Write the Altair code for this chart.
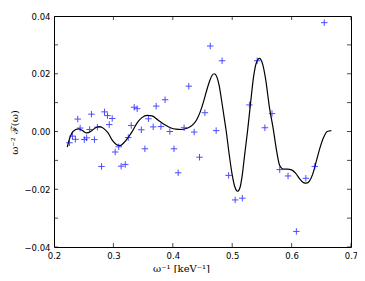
import altair as alt
import pandas as pd

# scattered data points (blue +)
pts_x = [0.226, 0.231, 0.236, 0.240, 0.244, 0.251, 0.255, 0.260, 0.263, 0.268,
         0.273, 0.280, 0.285, 0.290, 0.293, 0.298, 0.303, 0.309, 0.313, 0.320,
         0.325, 0.330, 0.335, 0.340, 0.347, 0.353, 0.359, 0.367, 0.372, 0.380,
         0.387, 0.395, 0.402, 0.409, 0.419, 0.427, 0.436, 0.445, 0.454, 0.463,
         0.473, 0.483, 0.494, 0.505, 0.517, 0.529, 0.542, 0.555, 0.567, 0.580,
         0.594, 0.608, 0.624, 0.639, 0.655]
pts_y = [-0.0039, -0.0016, -0.0027, 0.0043, 0.0012, -0.0028, -0.0022, 0.0007, 0.0060, -0.0028,
         0.0015, -0.0121, 0.0068, 0.0055, 0.0024, 0.0045, -0.0071, -0.0053, -0.0120, -0.0114,
         -0.0021, 0.0021, 0.0084, 0.0079, 0.0006, -0.0060, 0.0044, 0.0016, 0.0088, 0.0017,
         0.0110, 0.0000, -0.0060, -0.0143, 0.0013, 0.0157, -0.0002, -0.0089, 0.0065, 0.0296,
         0.0003, 0.0245, -0.0152, -0.0237, -0.0231, 0.0092, 0.0245, 0.0013, 0.0062, -0.0132,
         -0.0154, -0.0346, -0.0162, -0.0121, 0.0377]

# smooth fitted curve (black line)
curve_x = [0.2224, 0.227, 0.232, 0.241, 0.248, 0.255, 0.263, 0.270, 0.277, 0.284,
           0.291, 0.298, 0.305, 0.311, 0.318, 0.325, 0.331, 0.340, 0.348, 0.357,
           0.365, 0.375, 0.385, 0.395, 0.405, 0.415, 0.425, 0.433, 0.440, 0.446,
           0.452, 0.457, 0.462, 0.466, 0.470, 0.474, 0.478, 0.482, 0.486, 0.490,
           0.495, 0.500, 0.505, 0.509, 0.513, 0.517, 0.521, 0.526, 0.531, 0.536,
           0.541, 0.546, 0.551, 0.556, 0.563, 0.569, 0.575, 0.580, 0.586, 0.593,
           0.600, 0.607, 0.614, 0.620, 0.625, 0.630, 0.636, 0.642, 0.648, 0.654,
           0.660, 0.667]
curve_y = [-0.0054, -0.0020, 0.0000, 0.0009, 0.0003, -0.0005, 0.0002, 0.0013, 0.0017, 0.0010,
           -0.0005, -0.0030, -0.0045, -0.0049, -0.0038, -0.0020, -0.0002, 0.0030, 0.0048, 0.0056,
           0.0054, 0.0040, 0.0025, 0.0014, 0.0008, 0.0007, 0.0012, 0.0022, 0.0040, 0.0067,
           0.0105, 0.0142, 0.0175, 0.0194, 0.0200, 0.0190, 0.0160, 0.0110, 0.0055, 0.0000,
           -0.0080, -0.0150, -0.0195, -0.0207, -0.0195, -0.0150, -0.0080, 0.0005, 0.0100, 0.0190,
           0.0240, 0.0253, 0.0235, 0.0185, 0.0079, 0.0010, -0.0070, -0.0118, -0.0130, -0.0130,
           -0.0133, -0.0145, -0.0165, -0.0177, -0.0179, -0.0172, -0.0145, -0.0100, -0.0055, -0.0020,
           0.0000, 0.0003]

x_ticks = [0.2, 0.3, 0.4, 0.5, 0.6, 0.7]
y_ticks = [-0.04, -0.03, -0.02, -0.01, 0.0, 0.01, 0.02, 0.03, 0.04]
x_dom = [0.2, 0.7]
y_dom = [-0.04, 0.04]

pts = pd.DataFrame({"x": pts_x, "y": pts_y})
curve = pd.DataFrame({"x": curve_x, "y": curve_y})
xt = pd.DataFrame({"x": x_ticks * 2, "y": [y_dom[0]] * len(x_ticks) + [y_dom[1]] * len(x_ticks)})
yt = pd.DataFrame({"y": y_ticks * 2, "x": [x_dom[0]] * len(y_ticks) + [x_dom[1]] * len(y_ticks)})

xscale = alt.Scale(domain=x_dom, nice=False, zero=False)
yscale = alt.Scale(domain=y_dom, nice=False, zero=False)

xaxis = alt.Axis(values=x_ticks, format=".1f", title="ω⁻¹ [keV⁻¹]",
                 titleX=127, titleY=21, titleBaseline="middle", labelPadding=4,
                 labelFlush=False)
yaxis = alt.Axis(values=y_ticks, format=".2f", title="ω⁻² ℱ(ω)",
                 titleX=-40, titleY=116, titleBaseline="middle", titleAngle=270,
                 labelPadding=4, labelFlush=False)

X = alt.X("x:Q", scale=xscale, axis=xaxis)
Y = alt.Y("y:Q", scale=yscale, axis=yaxis)

line = alt.Chart(curve).mark_line(color="black", strokeWidth=1.2, interpolate="monotone").encode(x=X, y=Y)

plus = "M-1,0L1,0M0,-1L0,1"
points = alt.Chart(pts).mark_point(shape=plus, size=42, filled=False, color="#0000ff",
                                   strokeWidth=1, opacity=0.7).encode(x="x:Q", y="y:Q")

xticks_m = alt.Chart(xt).mark_tick(orient="vertical", size=8, thickness=1, color="black",
                                   clip=True).encode(x="x:Q", y="y:Q")
yticks_m = alt.Chart(yt).mark_tick(orient="horizontal", size=8, thickness=1, color="black",
                                   clip=True).encode(x="x:Q", y="y:Q")

chart = alt.layer(line, points, xticks_m, yticks_m).properties(
    width=297, height=231,
    autosize=alt.AutoSizeParams(type="none"),
    padding={"left": 46, "top": 8, "right": 6, "bottom": 26},
    background="white",
).configure_view(stroke="black", strokeWidth=1).configure_axis(
    domain=False, ticks=False, grid=False,
    labelFont="DejaVu Sans", labelFontSize=8.5, labelColor="black",
    titleFont="DejaVu Serif", titleFontSize=10, titleFontWeight="normal", titleColor="black",
)

chart.save("out.html", embed_options={"renderer": "svg", "actions": False})
